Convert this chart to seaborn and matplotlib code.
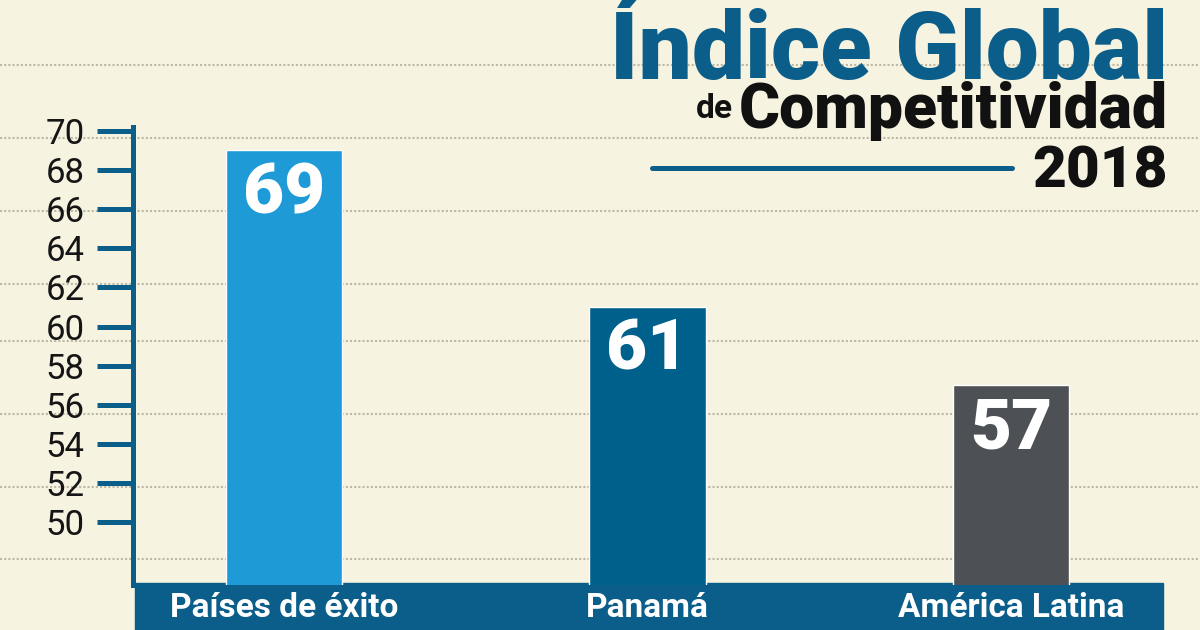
import matplotlib
matplotlib.use("Agg")
import matplotlib.pyplot as plt
from matplotlib.patches import Rectangle
from matplotlib.lines import Line2D
import seaborn as sns

# data
categories = ["Países de éxito", "Panamá", "América Latina"]
values = [69, 61, 57]
yticks = [50, 52, 54, 56, 58, 60, 62, 64, 66, 68, 70]

# colours
bg = "#F6F3E1"
navy = "#0B5E8A"
bar_colors = ["#1E9AD6", "#00608C", "#4D5055"]

sns.set_theme(style="white")
plt.rcParams["font.family"] = ["Roboto", "DejaVu Sans"]

fig = plt.figure(figsize=(12, 6.3), dpi=100, facecolor=bg)

# background dotted rules (pixel rows of the page)
bgax = fig.add_axes([0, 0, 1, 1], zorder=-2)
bgax.set_xlim(0, 1200)
bgax.set_ylim(630, 0)
bgax.axis("off")
for yy in [65, 138, 211, 284, 341, 414, 487, 559]:
    bgax.axhline(yy, color="#BDB7A6", lw=1.5, ls=(0, (1, 1)))

# label band under the bars
fig.patches.append(Rectangle((135 / 1200, 0), (1163 - 135) / 1200, 47 / 630,
                             transform=fig.transFigure, color=navy, zorder=-1))

ax = fig.add_axes([133 / 1200, 1 - 585 / 630, (1163 - 133) / 1200, (585 - 127) / 630])
ax.patch.set_visible(False)

sns.barplot(x=categories, y=values, hue=categories, palette=bar_colors,
            legend=False, width=0.32, saturation=1, ax=ax)

ax.set_ylim(46.8, 70.2)
ax.set_xlim(-0.415, 2.418)
ax.set_yticks(yticks)
ax.set_xlabel("")
ax.set_ylabel("")

for s in ["top", "right", "bottom"]:
    ax.spines[s].set_visible(False)
ax.spines["left"].set_color(navy)
ax.spines["left"].set_linewidth(3.6)

ax.tick_params(axis="y", left=True, length=26, width=3.6, color=navy,
               pad=9, labelsize=25, labelcolor="#151515")
ax.tick_params(axis="x", length=0, pad=5, labelsize=24, labelcolor="white")
for t in ax.get_xticklabels():
    t.set_fontweight("bold")

# value labels inside the bars
for i, v in enumerate(values):
    ax.annotate(str(v), (i, v), xytext=(0, -7), textcoords="offset points",
                ha="center", va="top", color="white", fontsize=51,
                fontweight="heavy")

# title block
fig.text(1168 / 1200, 1 - 79 / 630, "Índice Global", ha="right", va="baseline",
         color=navy, fontsize=68, fontweight="heavy")
fig.text(1168 / 1200, 1 - 128 / 630, "Competitividad", ha="right", va="baseline",
         color="#111111", fontsize=45, fontweight="heavy")
fig.text(733 / 1200, 1 - 118 / 630, "de", ha="right", va="baseline",
         color="#111111", fontsize=24, fontweight="bold")
fig.text(1168 / 1200, 1 - 187 / 630, "2018", ha="right", va="baseline",
         color="#111111", fontsize=42, fontweight="heavy")
fig.lines.append(Line2D([652 / 1200, 1012 / 1200], [1 - 168 / 630] * 2,
                        transform=fig.transFigure, color=navy, lw=3.6,
                        solid_capstyle="round"))

fig.savefig("out.png", dpi=100, facecolor=bg)
